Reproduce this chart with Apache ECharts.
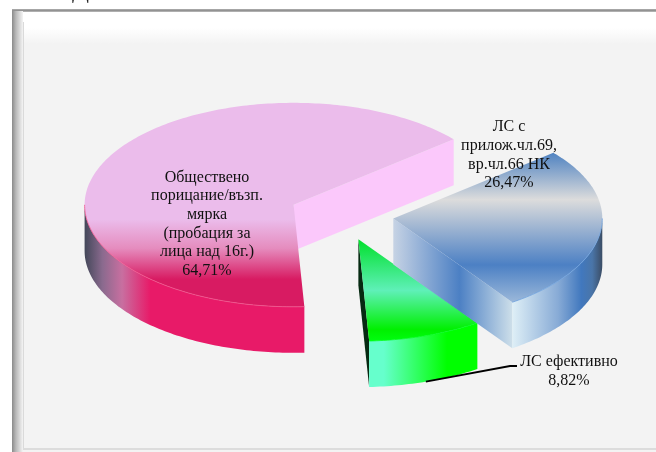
<!DOCTYPE html>
<html>
<head>
<meta charset="utf-8">
<style>
    html, body { margin: 0; padding: 0; background: #fff; }
    #chart { width: 656px; height: 452px; }
</style>
<script src="https://cdn.jsdelivr.net/npm/echarts@6/dist/echarts.min.js"></script>
</head>
<body>
<div id="chart"></div>
<script>
// data, in drawing order counter clockwise from startAngle
const categories = [
    'Обществено\nпорицание/възп.\nмярка\n(пробация за\nлица над 16г.)',
    'ЛС ефективно',
    'ЛС с\nприлож.чл.69,\nвр.чл.66 НК'
]
const percents = [64.71, 8.82, 26.47]

// layout of the tilted pie
const center = [341.5, 215]
const radiusX = 209
const radiusY = 102
const depth = 46
const explode = 0.25
const startAngle = 40
const labelCenters = [[207, 224], [569, 371], [509, 155]]
const leaderElbow = [[510, 366], [517, 366]]

const vGrad = (y, y2, stops) => ({
    type: 'linear', global: true, x: 0, y: y, x2: 0, y2: y2,
    colorStops: stops.map(s => ({ offset: s[0], color: s[1] }))
})
const hGrad = (x, x2, stops) => ({
    type: 'linear', global: true, x: x, y: 0, x2: x2, y2: 0,
    colorStops: stops.map(s => ({ offset: s[0], color: s[1] }))
})

const topFills = [
    vGrad(100, 306, [[0, '#EBBCEB'], [0.58, '#EBBCEB'], [0.72, '#E58CBE'], [0.87, '#D81B62'], [1, '#D81B62']]),
    vGrad(239, 342, [[0, '#00E02A'], [0.5, '#5FF0B8'], [0.88, '#00F000'], [1, '#00FF10']]),
    vGrad(151, 303, [[0, '#4A7FC0'], [0.32, '#DCDCDC'], [0.75, '#4C80C4'], [1, '#9DB9DA']])
]
const sideFills = [
    hGrad(85, 303, [[0, '#44485A'], [0.08, '#8A6A8E'], [0.17, '#C86FA0'], [0.3, '#E81A68'], [1, '#E81A68']]),
    hGrad(368, 447, [[0, '#66FFCC'], [0.2, '#66FFCC'], [1, '#00FF00']]),
    hGrad(513, 603, [[0, '#DDEEF6'], [0.5, '#88ABD6'], [0.76, '#4178BE'], [0.88, '#4A75A8'], [1, '#3A4A60']])
]
const faceFills = [
    '#FBC8FB',
    '#062A12',
    hGrad(394, 513, [[0, '#C5D2E4'], [0.55, '#4C80C4'], [1, '#CFE0EA']])
]
const rimColors = ['#F2568F', '#00FF20', '#6FA2DE']

const rad = d => d * Math.PI / 180
const cum = []
percents.reduce((sum, v, i) => {
    cum[i] = sum
    return sum + v
}, 0)
const total = percents.reduce((a, b) => a + b, 0)
const angleOf = i => startAngle + cum[i] / total * 360

const apexOf = i => {
    const mid = angleOf(i) + percents[i] / total * 180
    return [
        center[0] + Math.cos(rad(mid)) * explode * radiusX,
        center[1] - Math.sin(rad(mid)) * explode * radiusY
    ]
}
const onRim = (apex, deg) => [
    apex[0] + Math.cos(rad(deg)) * radiusX,
    apex[1] - Math.sin(rad(deg)) * radiusY
]
const arcPoints = (apex, a1, a2) => {
    let pts = []
    for (let a = a1; a < a2; a += 1) pts.push(onRim(apex, a))
    pts.push(onRim(apex, a2))
    return pts
}
const down = p => [p[0], p[1] + depth]

const renderSlice = (params, api) => {
    const i = params.dataIndex
    const a1 = angleOf(i)
    const a2 = a1 + percents[i] / total * 360
    const apex = apexOf(i)
    const children = []

    // cut face at the start of the slice
    const edge = onRim(apex, a1)
    children.push({
        type: 'polygon',
        shape: { points: [apex, edge, down(edge), down(apex)] },
        style: { fill: faceFills[i] }
    })

    // outer wall, only the part in the front half
    let lo = a1, hi = a2
    if (a2 > 360) hi = 360
    if (lo < 180) lo = 180
    const rim = arcPoints(apex, lo, hi)
    children.push({
        type: 'polygon',
        shape: { points: rim.concat(rim.slice().reverse().map(down)) },
        style: { fill: sideFills[i] }
    })

    // top surface
    children.push({
        type: 'polygon',
        shape: { points: [apex].concat(arcPoints(apex, a1, a2)) },
        style: { fill: topFills[i] }
    })
    children.push({
        type: 'polyline',
        shape: { points: rim },
        style: { stroke: rimColors[i], lineWidth: 1, fill: null, opacity: 0.8 }
    })

    // leader line of the small slice
    if (percents[i] < 10) {
        const start = down(onRim(apex, (a1 + a2) / 2))
        children.push({
            type: 'polyline',
            shape: { points: [start].concat(leaderElbow) },
            style: { stroke: '#000', lineWidth: 1.8, fill: null }
        })
    }

    children.push({
        type: 'text',
        z2: 10,
        style: {
            text: categories[i] + '\n' + percents[i].toFixed(2).replace('.', ',') + '%',
            x: labelCenters[i][0],
            y: labelCenters[i][1],
            align: 'center',
            verticalAlign: 'middle',
            font: '16px "Liberation Serif"',
            lineHeight: 18.6,
            fill: '#111'
        }
    })
    return { type: 'group', children }
}

const chart = echarts.init(document.getElementById('chart'), null, { renderer: 'canvas' })
chart.setOption({
    animation: false,
    backgroundColor: '#fff',
    graphic: [
        { type: 'text', z: 0, style: { text: 'Д', x: 72, y: -21, font: '25px "Liberation Serif"', fill: '#222' } },
        {
            type: 'rect', z: 0, shape: { x: 12, y: 9, width: 644, height: 443 },
            style: { fill: '#F3F3F3' }
        },
        {
            type: 'rect', z: 1, shape: { x: 23, y: 11, width: 633, height: 33 },
            style: { fill: vGrad(11, 44, [[0, '#fff'], [0.5, '#fff'], [1, '#F3F3F3']]) }
        },
        {
            type: 'rect', z: 1, shape: { x: 12, y: 9, width: 644, height: 3 },
            style: { fill: vGrad(9, 12, [[0, '#B0B0B0'], [0.6, '#8C8C8C'], [1, '#C8C8C8']]) }
        },
        {
            type: 'rect', z: 1, shape: { x: 12, y: 11, width: 11, height: 441 },
            style: { fill: hGrad(12, 23, [[0, '#8A8A8A'], [0.35, '#B8B8B8'], [1, '#F4F4F4']]) }
        },
        {
            type: 'rect', z: 1, shape: { x: 23, y: 22, width: 1, height: 426 },
            style: { fill: '#DADADA' }
        },
        {
            type: 'rect', z: 1, shape: { x: 23, y: 448, width: 633, height: 2 },
            style: { fill: '#DCDCDC' }
        }
    ],
    series: [{
        type: 'custom',
        coordinateSystem: 'none',
        silent: true,
        z: 5,
        renderItem: renderSlice,
        data: percents
    }]
})
</script>
</body>
</html>
